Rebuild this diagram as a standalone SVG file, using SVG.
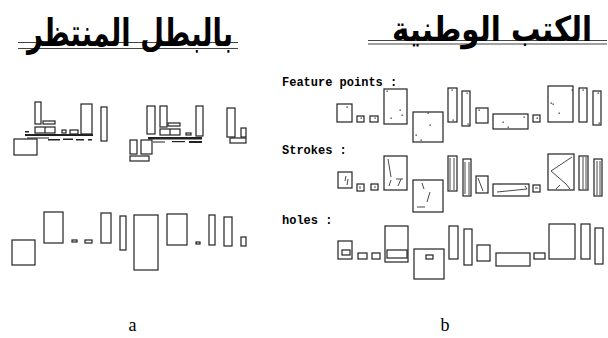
<svg xmlns="http://www.w3.org/2000/svg" width="608" height="338" viewBox="0 0 608 338">
<style>
.b{fill:none;stroke:#222;stroke-width:1.2}
.s{fill:none;stroke:#333;stroke-width:0.9}
.f{fill:#222}
.d{fill:#333}
.ar{font-family:"DejaVu Sans",sans-serif;font-weight:bold;fill:#000}
.lb{font-family:"Liberation Mono","DejaVu Sans Mono",monospace;font-weight:bold;font-size:12px;fill:#000}
.cap{font-family:"Liberation Serif","Times New Roman",serif;font-size:18px;fill:#000}
.ln{stroke:#444;stroke-width:1.2}
</style>
<rect width="608" height="338" fill="#fff"/>

<!-- Titles -->
<g id="title-a">
<line class="ln" x1="18" y1="42.5" x2="238" y2="42.5"/>
<line class="ln" x1="18" y1="48.5" x2="238" y2="48.5"/>
<text class="ar" x="130" y="46" font-size="38" text-anchor="middle" textLength="206" lengthAdjust="spacingAndGlyphs">بالبطل المنتظر</text>
</g>
<g id="title-b">
<line class="ln" x1="368" y1="40.5" x2="607" y2="40.5"/>
<line class="ln" x1="368" y1="44" x2="607" y2="44"/>
<text class="ar" transform="translate(492 41) scale(1 1.15)" x="0" y="0" font-size="30" text-anchor="middle" textLength="200" lengthAdjust="spacingAndGlyphs">الكتب الوطنية</text>
</g>

<!-- Panel a, top row -->
<g id="a-top">
<rect class="b" x="35" y="102" width="6" height="22"/>
<rect class="b" x="43" y="121" width="12" height="3"/>
<rect class="b" x="35" y="127" width="20" height="6"/>
<line class="b" x1="45" y1="127" x2="45" y2="133"/>
<rect class="f" x="25" y="131" width="4" height="1.5"/>
<rect class="b" x="62" y="130" width="4" height="3"/>
<rect class="b" x="70" y="130" width="8" height="4"/>
<rect class="b" x="81" y="104" width="11" height="30"/>
<rect class="f" x="25" y="134" width="68" height="2"/>
<rect class="f" x="27" y="137.5" width="22" height="1"/>
<rect class="f" x="48" y="139" width="12" height="1.5"/>
<rect class="f" x="63" y="138.5" width="10" height="1.5"/>
<rect class="f" x="76" y="139" width="8" height="1.5"/>
<rect class="f" x="88" y="139" width="4" height="1.5"/>
<rect class="b" x="14" y="139" width="23" height="16"/>
<rect class="b" x="101" y="107" width="6" height="34"/>

<rect class="b" x="147" y="106" width="8" height="28"/>
<rect class="b" x="160" y="106" width="7" height="21"/>
<rect class="b" x="168" y="123" width="12" height="3"/>
<rect class="b" x="160" y="129" width="20" height="6"/>
<line class="b" x1="170" y1="129" x2="170" y2="135"/>
<rect class="b" x="186" y="133" width="5" height="2"/>
<rect class="b" x="196" y="106" width="7" height="30"/>
<rect class="f" x="148" y="137" width="54" height="2.5"/>
<rect class="f" x="153" y="141.5" width="12" height="1"/>
<rect class="f" x="172" y="141" width="13" height="1.2"/>
<rect class="f" x="189" y="141" width="13" height="2"/>
<rect class="b" x="130" y="140" width="7" height="14"/>
<rect class="b" x="141" y="140" width="11" height="14"/>
<rect class="b" x="130" y="156" width="19" height="5"/>

<rect class="b" x="227" y="108" width="8" height="29"/>
<rect class="b" x="241" y="128" width="5" height="9"/>
<rect class="b" x="230" y="138" width="16" height="5"/>
</g>

<!-- Panel a, bottom row -->
<g id="a-bottom">
<rect class="b" x="12" y="240" width="23" height="25"/>
<rect class="b" x="44" y="212" width="19" height="31"/>
<rect class="b" x="72" y="240" width="5" height="2"/>
<rect class="b" x="85" y="240" width="7" height="3"/>
<rect class="b" x="101" y="213" width="10" height="30"/>
<rect class="b" x="120" y="216" width="6" height="34"/>
<rect class="b" x="134" y="215" width="24" height="55"/>
<rect class="b" x="167" y="214" width="20" height="31"/>
<rect class="b" x="196" y="242" width="4" height="2"/>
<rect class="b" x="209" y="215" width="6" height="30"/>
<rect class="b" x="224" y="217" width="8" height="29"/>
<rect class="b" x="241" y="237" width="5" height="9"/>
</g>

<!-- Panel b labels -->
<text class="lb" x="282" y="86">Feature points :</text>
<text class="lb" x="282" y="154">Strokes :</text>
<text class="lb" x="282" y="224">holes :</text>

<!-- Feature points row -->
<g id="b-feature">
<rect class="b" x="337" y="104" width="15" height="18"/>
<rect class="b" x="357" y="116" width="7" height="6"/>
<rect class="b" x="370" y="116" width="8" height="6"/>
<rect class="b" x="384" y="89" width="23" height="35"/>
<rect class="b" x="413" y="112" width="30" height="30"/>
<rect class="b" x="448" y="88" width="9" height="34"/>
<rect class="b" x="462" y="91" width="8" height="35"/>
<rect class="b" x="476" y="108" width="12" height="15"/>
<rect class="b" x="493" y="114" width="35" height="15"/>
<rect class="b" x="533" y="115" width="7" height="7"/>
<rect class="b" x="548" y="86" width="25" height="36"/>
<rect class="b" x="579" y="88" width="8" height="34"/>
<rect class="b" x="593" y="91" width="8" height="34"/>
<g class="d">
<rect x="346.5" y="106.5" width="1.3" height="1.3"/>
<rect x="360.5" y="117.5" width="1.3" height="1.3"/>
<rect x="374.5" y="117.5" width="1.3" height="1.3"/>
<rect x="386.5" y="90.5" width="1.3" height="1.3"/>
<rect x="399.5" y="109.5" width="1.3" height="1.3"/>
<rect x="401.5" y="114.5" width="1.3" height="1.3"/>
<rect x="390.5" y="117.5" width="1.3" height="1.3"/>
<rect x="427.5" y="112.5" width="1.3" height="1.3"/>
<rect x="429.5" y="124.5" width="1.3" height="1.3"/>
<rect x="415.5" y="134.5" width="1.3" height="1.3"/>
<rect x="420.5" y="139.5" width="1.3" height="1.3"/>
<rect x="451.5" y="89.5" width="1.3" height="1.3"/>
<rect x="452.5" y="119.5" width="1.3" height="1.3"/>
<rect x="466.5" y="92.5" width="1.3" height="1.3"/>
<rect x="467.5" y="123.5" width="1.3" height="1.3"/>
<rect x="478.5" y="109.5" width="1.3" height="1.3"/>
<rect x="502.5" y="121.5" width="1.3" height="1.3"/>
<rect x="523.5" y="116.5" width="1.3" height="1.3"/>
<rect x="507.5" y="126.5" width="1.3" height="1.3"/>
<rect x="536.5" y="117.5" width="1.3" height="1.3"/>
<rect x="571.5" y="89.5" width="1.3" height="1.3"/>
<rect x="550.5" y="102.5" width="1.3" height="1.3"/>
<rect x="552.5" y="103.5" width="1.3" height="1.3"/>
<rect x="558.5" y="112.5" width="1.3" height="1.3"/>
<rect x="582.5" y="89.5" width="1.3" height="1.3"/>
<rect x="597.5" y="92.5" width="1.3" height="1.3"/>
<rect x="598.5" y="122.5" width="1.3" height="1.3"/>
</g>
</g>

<!-- Strokes row -->
<g id="b-strokes">
<rect class="b" x="338" y="172" width="14" height="16"/>
<rect class="b" x="357" y="184" width="7" height="7"/>
<rect class="b" x="371" y="184" width="7" height="6"/>
<rect class="b" x="384" y="156" width="23" height="34"/>
<rect class="b" x="413" y="180" width="30" height="32"/>
<rect class="b" x="448" y="156" width="9" height="35"/>
<rect class="b" x="463" y="159" width="8" height="37"/>
<rect class="b" x="476" y="176" width="12" height="17"/>
<rect class="b" x="493" y="184" width="36" height="12"/>
<rect class="b" x="533" y="185" width="7" height="7"/>
<rect class="b" x="548" y="154" width="26" height="36"/>
<rect class="b" x="579" y="156" width="9" height="34"/>
<rect class="b" x="594" y="159" width="8" height="37"/>
<g class="s">
<path d="M346 176 L345 181 M348 179 L347 185"/>
<path d="M360 186 L360 189 M374 187 L376 187"/>
<path d="M388 159 L391 177 M389 186 L391 180 M396 179 L403 179 M401 179 L398 186"/>
<path d="M422 183 L424 189 M430 192 L427 202 M417 207 L425 207"/>
<path d="M450 158 L450 190 M454 158 L454 190"/>
<path d="M465 162 L465 194 M469 162 L469 195"/>
<path d="M478 178 L483 191"/>
<path d="M497 192 L527 189 M525 186 L527 189"/>
<path d="M535 188 L538 188"/>
<path d="M572 157 L551 171 L566 184 L570 189 M560 185 L556 189"/>
<path d="M583 157 L583 189 M586 157 L586 189"/>
<path d="M597 161 L597 195 M600 161 L600 195"/>
</g>
</g>

<!-- Holes row -->
<g id="b-holes">
<rect class="b" x="338" y="241" width="14" height="18"/>
<rect class="b" x="342" y="250" width="8" height="5"/>
<rect class="b" x="358" y="253" width="9" height="6"/>
<rect class="b" x="372" y="253" width="8" height="6"/>
<rect class="b" x="385" y="226" width="23" height="36"/>
<rect class="b" x="387" y="250" width="20" height="8"/>
<rect class="b" x="414" y="249" width="30" height="30"/>
<rect class="b" x="426" y="255" width="7" height="4"/>
<rect class="b" x="449" y="226" width="9" height="33"/>
<rect class="b" x="464" y="229" width="8" height="36"/>
<rect class="b" x="477" y="245" width="13" height="16"/>
<rect class="b" x="496" y="253" width="34" height="13"/>
<rect class="b" x="534" y="253" width="11" height="6"/>
<rect class="b" x="549" y="224" width="26" height="35"/>
<rect class="b" x="581" y="224" width="9" height="35"/>
<rect class="b" x="595" y="228" width="8" height="36"/>
</g>

<!-- Captions -->
<text class="cap" x="132.5" y="331" text-anchor="middle">a</text>
<text class="cap" x="445" y="331" text-anchor="middle">b</text>
</svg>
